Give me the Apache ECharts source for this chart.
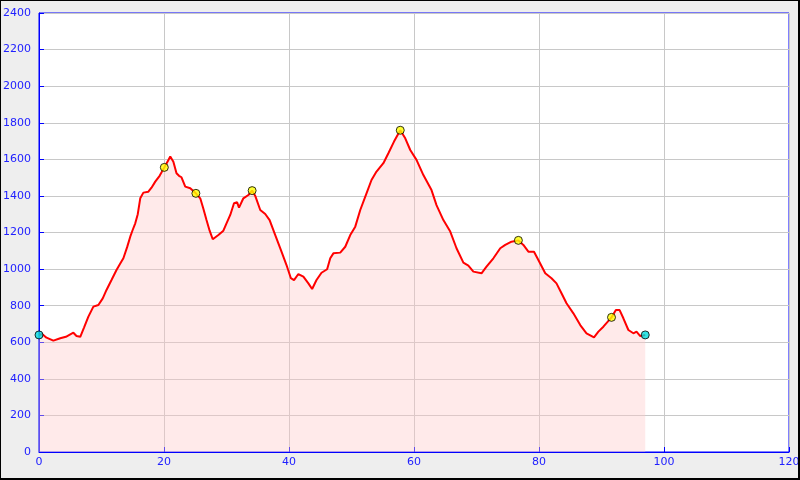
<!DOCTYPE html>
<html>
<head>
<meta charset="utf-8">
<script src="https://cdn.jsdelivr.net/npm/echarts@6/dist/echarts.min.js"></script>
<style>
html,body{margin:0;padding:0;background:#eeeeee;}
#c{width:800px;height:480px;}
#frame{position:absolute;left:0;top:0;width:800px;height:480px;box-sizing:border-box;border:1px solid #000;border-right-width:2px;border-bottom-width:2px;pointer-events:none;}
</style>
</head>
<body>
<div id="c"></div>
<div id="frame"></div>
<script>
// Distance (km) and elevation (m) of the profile
var distKm = [0,0.5,1.2,2.3,3.4,4.3,5.5,6.0,6.6,7.2,7.9,8.7,9.5,10.2,10.8,11.6,12.4,13.0,13.5,14.1,14.6,15.0,15.4,15.8,16.2,16.7,17.5,18.0,18.6,19.3,20.05,20.6,21.0,21.5,22.0,22.4,22.8,23.4,24.2,25.1,25.8,26.3,26.8,27.3,27.8,28.7,29.5,30.0,30.6,31.2,31.7,32.0,32.7,33.5,34.1,34.6,35.4,36.2,36.9,37.8,38.8,39.6,40.3,40.8,41.5,42.3,43.1,43.7,44.4,45.2,46.1,46.6,47.1,48.2,49.0,49.8,50.6,51.4,52.4,53.2,54.0,55.1,55.9,56.8,57.8,58.6,59.4,60.4,61.5,62.8,63.6,64.7,65.8,66.8,67.9,68.7,69.5,70.8,71.6,72.7,73.8,74.6,75.6,76.7,77.5,78.3,79.2,79.9,81.0,82.0,82.8,83.6,84.4,85.5,86.6,87.6,88.8,89.5,90.3,91.6,92.3,92.9,93.5,94.3,95.1,95.6,96.2,97.0];
var elevM = [640,645,625,609,622,630,652,634,630,680,740,795,804,840,886,940,995,1030,1059,1120,1177,1215,1250,1300,1387,1418,1423,1445,1478,1510,1556,1590,1615,1587,1524,1510,1502,1451,1442,1414,1387,1330,1268,1210,1163,1186,1210,1250,1296,1360,1365,1336,1387,1405,1429,1400,1323,1301,1268,1186,1095,1022,950,940,973,959,922,891,940,980,999,1059,1086,1090,1122,1186,1232,1323,1414,1487,1533,1579,1633,1697,1759,1715,1651,1597,1514,1432,1350,1268,1205,1114,1035,1019,986,977,1013,1059,1114,1132,1150,1157,1132,1095,1095,1050,977,950,922,868,813,758,694,649,627,658,685,736,776,776,731,667,649,658,634,640];
// Waypoint markers
var endKm = [0, 97.0];
var endElev = [640, 640];
var wpKm = [20.05, 25.1, 34.1, 57.8, 76.7, 91.6];
var wpElev = [1556, 1414, 1429, 1759, 1157, 736];

var xTicks = {min:0, max:120, interval:20};
var yTicks = {min:0, max:2400, interval:200};

function pairs(a,b){return a.map(function(v,i){return [v,b[i]];});}
function plain(v){return String(v);}

var chart = echarts.init(document.getElementById('c'), null, {renderer:'canvas'});
var font = 'DejaVu Sans';
chart.setOption({
  backgroundColor:'#eeeeee',
  animation:false,
  grid:{left:39,right:11,top:13,bottom:28,containLabel:false,outerBoundsMode:'none',show:true,backgroundColor:'#ffffff',borderColor:'#0000ff',borderWidth:1},
  xAxis:{type:'value',min:xTicks.min,max:xTicks.max,interval:xTicks.interval,
    axisLine:{show:true,onZero:false,lineStyle:{color:'#0000ff',width:1}},
    axisTick:{show:true,inside:true,length:5,lineStyle:{color:'#0000ff'}},
    axisLabel:{color:'#2020ff',fontFamily:font,fontSize:11,margin:5,formatter:plain},
    splitLine:{show:true,lineStyle:{color:'#c8c8c8',width:1}}},
  yAxis:{type:'value',min:yTicks.min,max:yTicks.max,interval:yTicks.interval,
    axisLine:{show:true,onZero:false,lineStyle:{color:'#0000ff',width:1}},
    axisTick:{show:true,inside:true,length:5,lineStyle:{color:'#0000ff'}},
    axisLabel:{color:'#2020ff',fontFamily:font,fontSize:11,margin:8,formatter:plain},
    splitLine:{show:true,lineStyle:{color:'#c8c8c8',width:1}}},
  series:[
    {type:'line',data:pairs(distKm,elevM),showSymbol:false,smooth:false,
     lineStyle:{color:'#ff0000',width:2},
     areaStyle:{color:'rgba(255,200,200,0.55)',origin:'start'},z:2},
    {type:'scatter',data:pairs(wpKm,wpElev),symbol:'circle',symbolSize:8,
     itemStyle:{color:'#ffff00',borderColor:'#000000',borderWidth:1},z:5},
    {type:'scatter',data:pairs(endKm,endElev),symbol:'circle',symbolSize:8,
     itemStyle:{color:'#00dddd',borderColor:'#000000',borderWidth:1},z:5}
  ]
});
</script>
</body>
</html>
